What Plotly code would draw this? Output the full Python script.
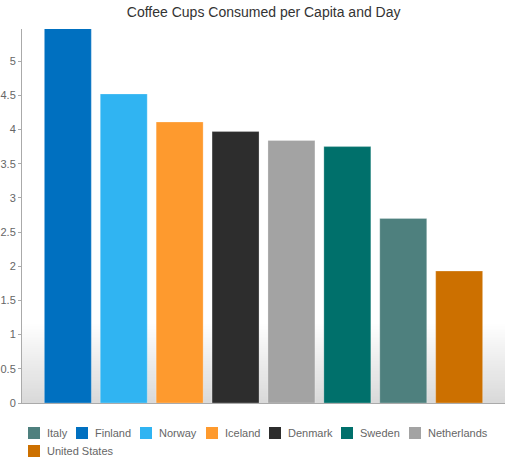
import plotly.graph_objects as go

# bar order on the x axis
bar_order = ["Finland", "Norway", "Iceland", "Denmark", "Netherlands", "Sweden", "Italy", "United States"]

# legend order and values (cups per capita per day)
countries = ["Italy", "Finland", "Norway", "Iceland", "Denmark", "Sweden", "Netherlands", "United States"]
cups = [2.70, 5.48, 4.52, 4.11, 3.97, 3.75, 3.84, 1.93]
colors = ["#4e807e", "#0070c0", "#30b4f2", "#fe9a2e", "#2d2d2d", "#00706b", "#a3a3a3", "#cc7000"]

W, H = 515, 457
L, R, T, B = 22, 10, 29, 54
pw, ph = W - L - R, H - T - B


def px_x(px):
    return (px - L) / pw


def px_y(py):
    return (H - B - py) / ph


fig = go.Figure()
for name, val, col in zip(countries, cups, colors):
    fig.add_trace(go.Bar(
        x=[name], y=[val], name=name,
        marker=dict(color=col, line=dict(color="rgba(255,255,255,0.25)", width=1)),
        hoverinfo="x+y", showlegend=False,
    ))

# soft grey gradient at the bottom of the plot area
shapes = []
n = 40
top = 0.21
for i in range(n):
    t = i / n
    g = int(218 + (255 - 218) * t)
    shapes.append(dict(
        type="rect", xref="paper", yref="paper", layer="below",
        x0=0, x1=1, y0=top * t, y1=top * (t + 1 / n) + 0.002,
        fillcolor=f"rgb({g},{g},{g})", line=dict(width=0),
    ))

# legend drawn by hand so the entries sit as tight as in the original
legend_left = [28, 76, 140, 206, 269, 341, 409, 28]
legend_row = [433, 433, 433, 433, 433, 433, 433, 451]
annotations = []
for name, col, lx, cy in zip(countries, colors, legend_left, legend_row):
    shapes.append(dict(
        type="rect", xref="paper", yref="paper",
        x0=px_x(lx), x1=px_x(lx + 12), y0=px_y(cy + 6), y1=px_y(cy - 6),
        fillcolor=col, line=dict(width=0),
    ))
    annotations.append(dict(
        text=name, xref="paper", yref="paper", showarrow=False,
        x=px_x(lx + 18), y=px_y(cy), xanchor="left", yanchor="middle",
        font=dict(size=11, color="#666666"), borderpad=0,
    ))

fig.update_layout(
    width=W, height=H,
    margin=dict(l=L, r=R, t=T, b=B, autoexpand=False),
    paper_bgcolor="white", plot_bgcolor="white",
    barmode="overlay", bargap=0.16,
    shapes=shapes, annotations=annotations,
    showlegend=False,
    font=dict(family="Liberation Sans, Arial, sans-serif", size=11, color="#666666"),
    title=dict(text="Coffee Cups Consumed per Capita and Day", x=0.512, xanchor="center",
               y=1 - 12 / H, yanchor="middle", yref="container",
               font=dict(size=14, color="#333333")),
)
fig.update_xaxes(
    categoryorder="array", categoryarray=bar_order, range=[-0.82, 7.82],
    showticklabels=False, showgrid=False, zeroline=False,
    showline=True, linecolor="#aaaaaa", linewidth=1, ticks="", automargin=False,
)
fig.update_yaxes(
    range=[0, 5.47], dtick=0.5, tick0=0, showgrid=False, zeroline=False,
    showline=True, linecolor="#aaaaaa", linewidth=1,
    ticks="outside", ticklen=3, tickcolor="#aaaaaa", automargin=False,
    tickfont=dict(size=11, color="#666666"),
)

# the page's default body margin would shift the chart by 8px
fig.write_html("out.html", config={"displayModeBar": False},
               post_script="document.body.style.margin='0';")
